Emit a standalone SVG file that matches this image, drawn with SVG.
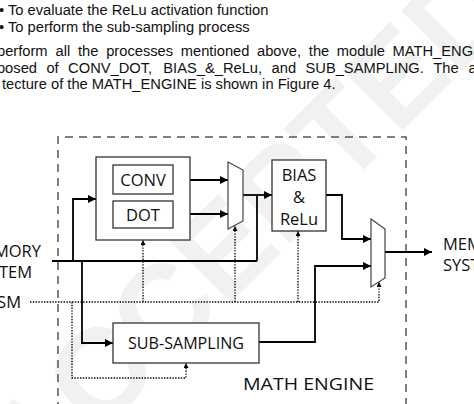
<svg xmlns="http://www.w3.org/2000/svg" width="474" height="404" viewBox="0 0 474 404">
<style>
.para{font-family:"Liberation Sans",Arial,sans-serif;font-size:14.7px;fill:#111}
.lbl{font-family:"Open Sans","Noto Sans",sans-serif;font-size:16.5px;fill:#111}
.box{fill:#fff;stroke:#333;stroke-width:1.3}
.mux{fill:#fff;stroke:#444;stroke-width:1.2}
.wire{fill:none;stroke:#000;stroke-width:1.8}
.dot{fill:none;stroke:#000;stroke-width:1.3;stroke-dasharray:1.4 1.4}
.frame{fill:none;stroke:#555;stroke-width:1.5;stroke-dasharray:8 6}
.wm{font-family:"Liberation Sans",Arial,sans-serif;font-weight:bold;font-size:125px;fill:#f1f1f1}
</style>
<defs>
<marker id="ah" viewBox="0 0 10 10" refX="10" refY="5" markerWidth="9" markerHeight="8" markerUnits="userSpaceOnUse" orient="auto"><path d="M0,0 L10,5 L0,10 z" fill="#000"/></marker>
<marker id="sa" viewBox="0 0 10 10" refX="10" refY="5" markerWidth="5" markerHeight="5" markerUnits="userSpaceOnUse" orient="auto"><path d="M0,0 L10,5 L0,10 z" fill="#000"/></marker>
</defs>
<rect width="474" height="404" fill="#fff"/>
<text class="wm" x="245" y="270" text-anchor="middle" transform="rotate(-45 245 225)">ACCEPTED</text>

<g id="paragraph">
<text class="para" x="-1" y="15">• To evaluate the ReLu activation function</text>
<text class="para" x="-1" y="32">• To perform the sub-sampling process</text>
<text class="para" y="56"><tspan x="-3">perform</tspan><tspan x="55.5">all</tspan><tspan x="78">the</tspan><tspan x="106.2">processes</tspan><tspan x="180.8">mentioned</tspan><tspan x="257">above,</tspan><tspan x="308.8">the</tspan><tspan x="336.8">module</tspan><tspan x="392.6">MATH_ENGINE</tspan></text>
<text class="para" y="73"><tspan x="-30.8">composed</tspan><tspan x="46.4">of</tspan><tspan x="68.1">CONV_DOT,</tspan><tspan x="163.3">BIAS_&amp;_ReLu,</tspan><tspan x="271.6">and</tspan><tspan x="305.5">SUB_SAMPLING.</tspan><tspan x="433.4">The</tspan><tspan x="468.6">archi-</tspan></text>
<text class="para" x="2" y="89">tecture of the MATH_ENGINE is shown in Figure 4.</text>
</g>

<g id="frame">
<path class="frame" d="M58,410 V137 H406 V410"/>
<text class="lbl" x="243" y="390" font-size="19" textLength="131" lengthAdjust="spacingAndGlyphs">MATH ENGINE</text>
</g>

<g id="connectors">
<path class="wire" d="M52,261 H257"/>
<path class="wire" d="M73,261 V199 H96" marker-end="url(#ah)"/>
<path class="wire" d="M82,261 V343 H113" marker-end="url(#ah)"/>
<path class="wire" d="M190,180 H228" marker-end="url(#ah)"/>
<path class="wire" d="M190,214 H228" marker-end="url(#ah)"/>
<path class="wire" d="M243,195 H272" marker-end="url(#ah)"/>
<path class="wire" d="M257,195 V261"/>
<path class="wire" d="M326,195 H342 V239 H371" marker-end="url(#ah)"/>
<path class="wire" d="M259,342 H315 V266 H371" marker-end="url(#ah)"/>
<path class="wire" d="M385,252 H432" marker-end="url(#ah)"/>
<path class="dot" d="M30,302 H379 V282" marker-end="url(#sa)"/>
<path class="dot" d="M143,302 V240" marker-end="url(#sa)"/>
<path class="dot" d="M235,302 V226" marker-end="url(#sa)"/>
<path class="dot" d="M298,302 V231" marker-end="url(#sa)"/>
<path class="dot" d="M72,302 V378 H186 V363" marker-end="url(#sa)"/>
</g>

<g id="conv_dot">
<rect class="box" x="96" y="157" width="94" height="83"/>
<rect class="box" x="113" y="165" width="60" height="29"/>
<text class="lbl" x="143" y="186" text-anchor="middle">CONV</text>
<rect class="box" x="113" y="201" width="60" height="27"/>
<text class="lbl" x="143" y="221" text-anchor="middle">DOT</text>
</g>

<g id="mux1">
<polygon class="mux" points="228,162 243,170 243,221 228,229"/>
</g>

<g id="bias_relu">
<rect class="box" x="272" y="160" width="54" height="71"/>
<text class="lbl" x="299" y="181" text-anchor="middle">BIAS</text>
<text class="lbl" x="299" y="203" text-anchor="middle">&amp;</text>
<text class="lbl" x="299" y="225" text-anchor="middle">ReLu</text>
</g>

<g id="mux2">
<polygon class="mux" points="371,219 385,229 385,278 371,287"/>
</g>

<g id="sub_sampling">
<rect class="box" x="113" y="323" width="146" height="40"/>
<text class="lbl" x="128" y="349" textLength="116" lengthAdjust="spacingAndGlyphs">SUB-SAMPLING</text>
</g>

<g id="memory_in">
<text class="lbl" x="41" y="257" font-size="17" text-anchor="end">MEMORY</text>
<text class="lbl" x="32" y="278" font-size="17" text-anchor="end">SYSTEM</text>
</g>
<g id="fsm">
<text class="lbl" x="21" y="308" font-size="17" text-anchor="end">FSM</text>
</g>
<g id="memory_out">
<text class="lbl" x="443" y="250" font-size="17">MEMORY</text>
<text class="lbl" x="443" y="271" font-size="17">SYSTEM</text>
</g>
</svg>
